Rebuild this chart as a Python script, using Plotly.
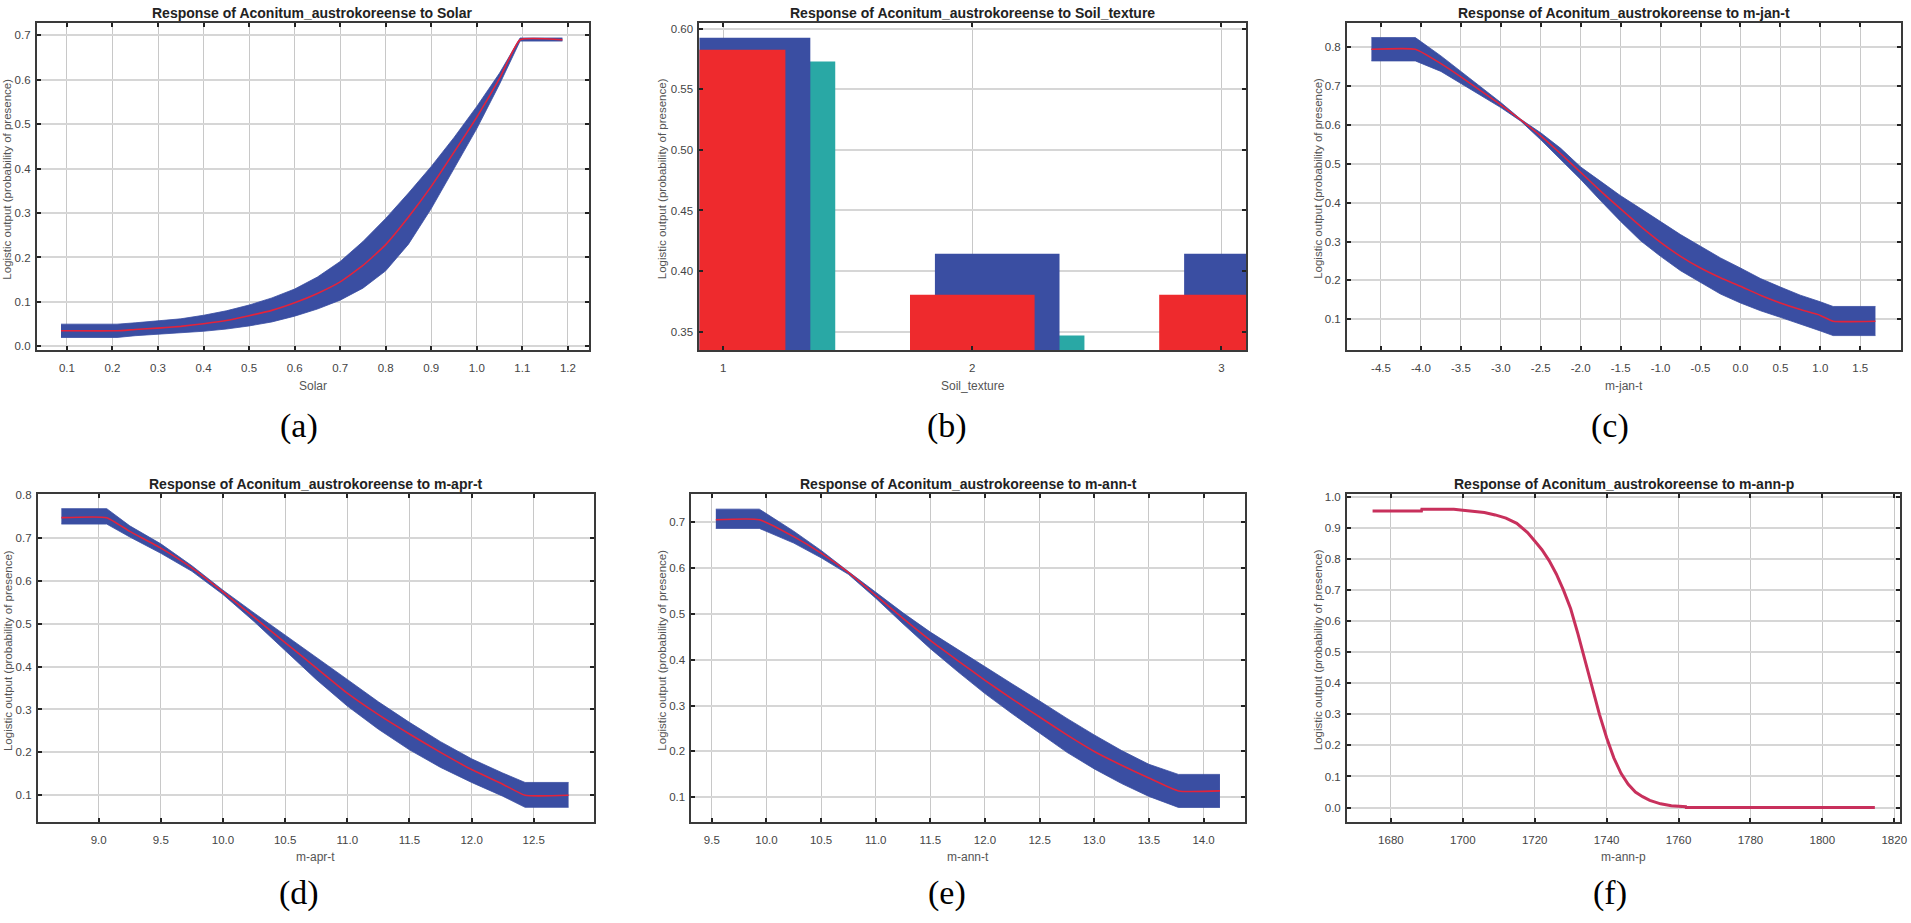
import plotly.graph_objects as go

# ---------------- data ----------------
# (a) Solar
solar_x = [0.087, 0.21, 0.25, 0.3, 0.35, 0.4, 0.45, 0.5, 0.55, 0.6, 0.65, 0.7, 0.75, 0.8, 0.85, 0.9, 0.95, 1.0, 1.05, 1.095, 1.188]
solar_mean = [0.035, 0.035, 0.038, 0.041, 0.045, 0.051, 0.058, 0.069, 0.081, 0.098, 0.119, 0.145, 0.182, 0.229, 0.291, 0.360, 0.437, 0.516, 0.603, 0.690, 0.690]
solar_upper = [0.050, 0.050, 0.053, 0.057, 0.062, 0.070, 0.080, 0.093, 0.109, 0.129, 0.156, 0.191, 0.236, 0.288, 0.345, 0.405, 0.470, 0.540, 0.615, 0.694, 0.694]
solar_lower = [0.020, 0.020, 0.024, 0.027, 0.030, 0.034, 0.039, 0.046, 0.055, 0.068, 0.084, 0.104, 0.131, 0.170, 0.230, 0.310, 0.400, 0.490, 0.590, 0.687, 0.687]

# (b) Soil_texture
soil_cats = [1, 2, 3]
soil_mean = [0.5826, 0.3805, 0.3805]
soil_plus = [0.5926, 0.4143, 0.4143]
soil_minus = [0.5730, 0.3467, 0.3467]

# (c) m-jan-t
jan_x = [-4.62, -4.07, -3.75, -3.5, -3.25, -3.0, -2.75, -2.5, -2.25, -2.0, -1.75, -1.5, -1.25, -1.0, -0.75, -0.5, -0.25, 0.0, 0.25, 0.5, 0.75, 1.0, 1.16, 1.69]
jan_mean = [0.795, 0.795, 0.758, 0.724, 0.688, 0.652, 0.613, 0.572, 0.526, 0.478, 0.430, 0.384, 0.339, 0.298, 0.262, 0.232, 0.207, 0.185, 0.162, 0.142, 0.125, 0.110, 0.095, 0.095]
jan_upper = [0.825, 0.825, 0.778, 0.738, 0.698, 0.658, 0.615, 0.580, 0.540, 0.492, 0.455, 0.418, 0.385, 0.352, 0.318, 0.288, 0.258, 0.232, 0.205, 0.183, 0.162, 0.145, 0.133, 0.133]
jan_lower = [0.765, 0.765, 0.738, 0.708, 0.676, 0.645, 0.610, 0.562, 0.510, 0.460, 0.405, 0.352, 0.302, 0.262, 0.225, 0.195, 0.165, 0.142, 0.122, 0.105, 0.088, 0.070, 0.058, 0.058]

# (d) m-apr-t
apr_x = [8.70, 9.065, 9.25, 9.5, 9.75, 10.0, 10.25, 10.5, 10.75, 11.0, 11.25, 11.5, 11.75, 12.0, 12.25, 12.43, 12.78]
apr_mean = [0.747, 0.747, 0.715, 0.676, 0.630, 0.574, 0.515, 0.456, 0.397, 0.338, 0.288, 0.243, 0.200, 0.160, 0.126, 0.100, 0.100]
apr_upper = [0.768, 0.768, 0.728, 0.686, 0.635, 0.578, 0.525, 0.474, 0.422, 0.370, 0.318, 0.270, 0.225, 0.185, 0.152, 0.130, 0.130]
apr_lower = [0.732, 0.732, 0.702, 0.664, 0.622, 0.568, 0.505, 0.437, 0.370, 0.308, 0.254, 0.206, 0.165, 0.130, 0.098, 0.072, 0.072]

# (e) m-ann-t
annt_x = [9.537, 9.935, 10.25, 10.5, 10.75, 11.0, 11.25, 11.5, 11.75, 12.0, 12.25, 12.5, 12.75, 13.0, 13.25, 13.5, 13.77, 14.15]
annt_mean = [0.705, 0.705, 0.668, 0.632, 0.590, 0.540, 0.490, 0.442, 0.398, 0.355, 0.314, 0.275, 0.236, 0.200, 0.170, 0.142, 0.114, 0.114]
annt_upper = [0.728, 0.728, 0.680, 0.638, 0.592, 0.546, 0.502, 0.460, 0.422, 0.385, 0.347, 0.310, 0.272, 0.236, 0.202, 0.172, 0.150, 0.150]
annt_lower = [0.686, 0.686, 0.654, 0.622, 0.586, 0.534, 0.478, 0.424, 0.374, 0.326, 0.282, 0.240, 0.198, 0.162, 0.130, 0.102, 0.078, 0.078]

# (f) m-ann-p
annp_x = [1674.9, 1688.5, 1688.6, 1697.5, 1700, 1703, 1706, 1709, 1712, 1715, 1718, 1720, 1722, 1724, 1726,
          1728, 1730, 1732, 1734, 1736, 1738, 1740, 1742, 1744, 1746, 1748, 1750, 1752, 1755, 1758, 1762,
          1762.1, 1814.6]
annp_mean = [0.955, 0.955, 0.960, 0.960, 0.957, 0.954, 0.950, 0.942, 0.932, 0.915, 0.885, 0.858, 0.830, 0.795, 0.752,
             0.700, 0.640, 0.560, 0.475, 0.385, 0.300, 0.225, 0.160, 0.110, 0.075, 0.050, 0.035, 0.023, 0.012, 0.006, 0.003,
             0.000, 0.000]

# tick values
a_xticks = [0.1, 0.2, 0.3, 0.4, 0.5, 0.6, 0.7, 0.8, 0.9, 1.0, 1.1, 1.2]
a_yticks = [0.0, 0.1, 0.2, 0.3, 0.4, 0.5, 0.6, 0.7]
b_xticks = [1, 2, 3]
b_yticks = [0.35, 0.40, 0.45, 0.50, 0.55, 0.60]
c_xticks = [-4.5, -4.0, -3.5, -3.0, -2.5, -2.0, -1.5, -1.0, -0.5, 0.0, 0.5, 1.0, 1.5]
c_yticks = [0.1, 0.2, 0.3, 0.4, 0.5, 0.6, 0.7, 0.8]
d_xticks = [9.0, 9.5, 10.0, 10.5, 11.0, 11.5, 12.0, 12.5]
d_yticks = [0.1, 0.2, 0.3, 0.4, 0.5, 0.6, 0.7, 0.8]
e_xticks = [9.5, 10.0, 10.5, 11.0, 11.5, 12.0, 12.5, 13.0, 13.5, 14.0]
e_yticks = [0.1, 0.2, 0.3, 0.4, 0.5, 0.6, 0.7]
f_xticks = [1680, 1700, 1720, 1740, 1760, 1780, 1800, 1820]
f_yticks = [0.0, 0.1, 0.2, 0.3, 0.4, 0.5, 0.6, 0.7, 0.8, 0.9, 1.0]

species = "Aconitum_austrokoreense"
variables = ["Solar", "Soil_texture", "m-jan-t", "m-apr-t", "m-ann-t", "m-ann-p"]
captions = ["(a)", "(b)", "(c)", "(d)", "(e)", "(f)"]
y_title = "Logistic output (probability of presence)"

# ---------------- styling / layout ----------------
W, H = 1911, 923
BLUE = "#3A4EA2"
RED = "#E3233B"
BARRED = "#EE2A2D"
TEAL = "#29A8A5"
FLINE = "#C8305C"

# pixel boxes: left, right, top, bottom
boxes = [
    (37, 591, 18, 348),
    (702, 1251, 18, 348),
    (1352, 1908, 18, 348),
    (38, 596, 493, 823),
    (694, 1250, 493, 823),
    (1352, 1907, 493, 823),
]
x_ranges = [[0.034, 1.246], [0.905, 3.10], [-4.925, 2.01], [8.511, 12.983], [9.314, 14.383], [1667.8, 1821.6]]
y_ranges = [[-0.009, 0.728], [0.3345, 0.6049], [0.020, 0.863], [0.0384, 0.8015], [0.0468, 0.7604], [-0.0457, 1.0085]]
xticks = [a_xticks, b_xticks, c_xticks, d_xticks, e_xticks, f_xticks]
yticks = [a_yticks, b_yticks, c_yticks, d_yticks, e_yticks, f_yticks]
xfmt = ["{:.1f}", "{:d}", "{:.1f}", "{:.1f}", "{:.1f}", "{:d}"]
yfmt = ["{:.1f}", "{:.2f}", "{:.1f}", "{:.1f}", "{:.1f}", "{:.1f}"]
caption_x = [300, 950, 1616, 300, 950, 1616]
caption_dy = [76, 76, 76, 72, 72, 72]
ytitle_off = [30, 38, 29, 30, 29, 29]

fig = go.Figure()


def axn(i):
    return "" if i == 0 else str(i + 1)


def add_band(i, x, lo, hi, mean):
    a = axn(i)
    fig.add_trace(go.Scatter(x=x, y=lo, mode="lines", line=dict(width=0.8, color=BLUE),
                             xaxis="x" + a, yaxis="y" + a, showlegend=False, hoverinfo="skip"))
    fig.add_trace(go.Scatter(x=x, y=hi, mode="lines", line=dict(width=0.8, color=BLUE),
                             fill="tonexty", fillcolor=BLUE,
                             xaxis="x" + a, yaxis="y" + a, showlegend=False, hoverinfo="skip"))
    fig.add_trace(go.Scatter(x=x, y=mean, mode="lines", line=dict(width=1.6, color=RED, shape="spline", smoothing=0.4),
                             xaxis="x" + a, yaxis="y" + a, showlegend=False))


add_band(0, solar_x, solar_lower, solar_upper, solar_mean)

# (b) bars
for vals, col, off in [(soil_minus, TEAL, -0.05), (soil_plus, BLUE, -0.15), (soil_mean, BARRED, -0.25)]:
    fig.add_trace(go.Bar(x=soil_cats, y=vals, width=0.5, offset=off, marker=dict(color=col, line=dict(width=0)),
                         xaxis="x2", yaxis="y2", showlegend=False))

add_band(2, jan_x, jan_lower, jan_upper, jan_mean)
add_band(3, apr_x, apr_lower, apr_upper, apr_mean)
add_band(4, annt_x, annt_lower, annt_upper, annt_mean)

fig.add_trace(go.Scatter(x=annp_x, y=annp_mean, mode="lines", line=dict(width=3, color=FLINE),
                         xaxis="x6", yaxis="y6", showlegend=False))

layout = dict(
    width=W, height=H, margin=dict(l=0, r=0, t=0, b=0),
    paper_bgcolor="white", plot_bgcolor="white",
    barmode="overlay", showlegend=False,
    font=dict(family="Liberation Sans, Arial, sans-serif", color="#444"),
)

annotations = []
common = dict(showline=True, linecolor="#3a3a3a", linewidth=2, mirror="ticks",
              ticks="inside", ticklen=4, tickwidth=1.5, tickcolor="#222",
              showgrid=True, zeroline=False, fixedrange=True, ticklabeloverflow="allow",
              tickfont=dict(family="Liberation Sans, Arial, sans-serif", size=11.5, color="#444"))

for i, (l, r, t, b) in enumerate(boxes):
    a = axn(i)
    xa = dict(common)
    xa.update(domain=[l / W, r / W], anchor="y" + a, range=x_ranges[i],
              tickmode="array", tickvals=xticks[i],
              ticktext=[xfmt[i].format(v) for v in xticks[i]],
              gridcolor="#c8c8c8", gridwidth=1, ticklabelstandoff=6)
    ya = dict(common)
    ya.update(domain=[1 - b / H, 1 - t / H], anchor="x" + a, range=y_ranges[i],
              tickmode="array", tickvals=yticks[i],
              ticktext=[yfmt[i].format(v) for v in yticks[i]],
              gridcolor="#d6d6d6", gridwidth=1.6, ticklabelstandoff=2)
    layout["xaxis" + a] = xa
    layout["yaxis" + a] = ya

    cx = (l + r) / 2
    annotations.append(dict(text="<b>Response of %s to %s</b>" % (species, variables[i]),
                            x=cx / W, y=1 - (t - 10) / H, xref="paper", yref="paper",
                            xanchor="center", yanchor="middle", showarrow=False,
                            font=dict(size=14, color="#222", family="Liberation Sans, Arial, sans-serif")))
    annotations.append(dict(text=variables[i], x=cx / W, y=1 - (b + 36) / H, xref="paper", yref="paper",
                            xanchor="center", yanchor="middle", showarrow=False,
                            font=dict(size=12, color="#555")))
    annotations.append(dict(text=y_title, x=(l - ytitle_off[i]) / W, y=1 - ((t + b) / 2 - 8) / H,
                            xref="paper", yref="paper", xanchor="center", yanchor="middle",
                            textangle=-90, showarrow=False, font=dict(size=11.5, color="#555")))
    annotations.append(dict(text=captions[i], x=caption_x[i] / W, y=1 - (b + caption_dy[i]) / H,
                            xref="paper", yref="paper", xanchor="center", yanchor="middle",
                            showarrow=False,
                            font=dict(size=34, color="#000", family="Liberation Serif, Times New Roman, serif")))

layout["annotations"] = annotations
fig.update_layout(**layout)
fig.write_html("out.html", config={"displayModeBar": False},
               post_script="document.body.style.margin='0px'; document.body.style.overflow='hidden';")
